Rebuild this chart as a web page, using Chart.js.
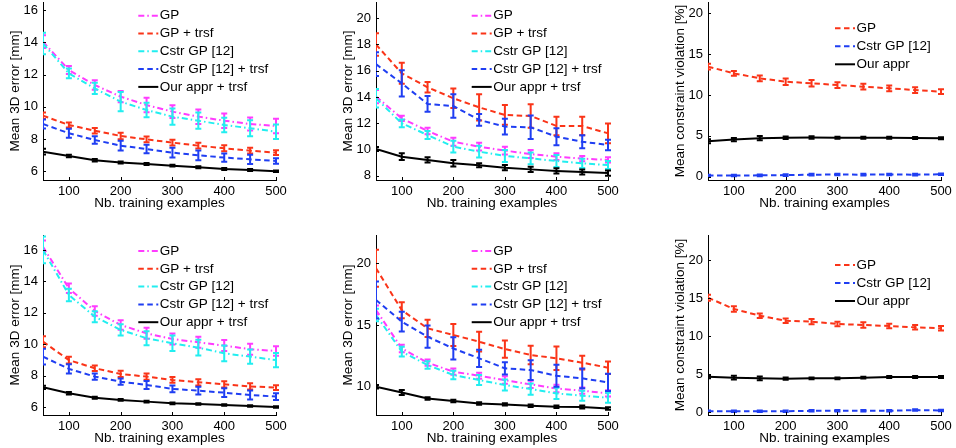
<!DOCTYPE html>
<html><head><meta charset="utf-8">
<script src="https://cdn.jsdelivr.net/npm/chart.js@4.4.1/dist/chart.umd.min.js"></script>
<style>
html,body{margin:0;padding:0;background:#fff;}
#wrap{position:relative;width:956px;height:448px;overflow:hidden;background:#fff;}
canvas{position:absolute;}
</style></head><body>
<div id="wrap">
<canvas id="c1" width="320" height="224" style="left:0px;top:0px"></canvas>
<canvas id="c2" width="320" height="224" style="left:320px;top:0px"></canvas>
<canvas id="c3" width="316" height="224" style="left:640px;top:0px"></canvas>
<canvas id="c4" width="320" height="224" style="left:0px;top:224px"></canvas>
<canvas id="c5" width="320" height="224" style="left:320px;top:224px"></canvas>
<canvas id="c6" width="316" height="224" style="left:640px;top:224px"></canvas>
</div>
<script>
// ---------------- DATA ----------------
const nTrain = [50,100,150,200,250,300,350,400,450,500];
const xTicks = [100,200,300,400,500];
const yTicksA = [6,8,10,12,14,16];
const yTicksB = [8,10,12,14,16,18,20];
const yTicksE = [10,15,20];
const yTicksViol = [0,5,10,15,20];

const labelsErr = ['GP','GP + trsf','Cstr GP [12]','Cstr GP [12] + trsf','Our appr + trsf'];
const labelsViol = ['GP','Cstr GP [12]','Our appr'];
const xTitle = 'Nb. training examples';
const yTitleErr = 'Mean 3D error [mm]';
const yTitleViol = 'Mean constraint violation [%]';

// Panel 1 (top-left)
const p1_gp     = [14.04,12.28,11.35,10.63,10.11,9.70,9.39,9.14,8.93,8.81];
const p1_gpErr  = [0.40,0.25,0.30,0.35,0.45,0.40,0.45,0.45,0.40,0.45];
const p1_gpT    = [9.45,8.87,8.52,8.19,7.98,7.78,7.59,7.43,7.28,7.16];
const p1_gpTErr = [0.20,0.15,0.17,0.20,0.18,0.18,0.18,0.18,0.18,0.15];
const p1_cs     = [13.93,12.07,11.14,10.32,9.80,9.39,9.14,8.87,8.67,8.46];
const p1_csErr  = [0.67,0.30,0.35,0.60,0.45,0.50,0.50,0.45,0.50,0.45];
const p1_csT    = [8.93,8.36,7.94,7.59,7.38,7.16,6.99,6.85,6.74,6.64];
const p1_csTErr = [0.28,0.28,0.23,0.30,0.26,0.30,0.30,0.26,0.28,0.17];
const p1_our    = [7.22,6.95,6.68,6.54,6.45,6.35,6.25,6.14,6.08,6.00];
const p1_ourErr = [0.18,0.08,0.08,0.06,0.06,0.06,0.06,0.06,0.06,0.05];

// Panel 2 (top-middle)
const p2_gp     = [14.03,12.37,11.41,10.59,10.21,9.91,9.65,9.45,9.30,9.20];
const p2_gpErr  = [0.50,0.20,0.25,0.30,0.30,0.30,0.30,0.25,0.20,0.20];
const p2_gpT    = [18.00,15.80,14.74,13.90,13.21,12.63,12.55,11.79,11.79,11.23];
const p2_gpTErr = [0.85,0.80,0.40,0.75,1.00,0.75,0.90,0.70,0.70,0.75];
const p2_cs     = [13.90,11.99,11.10,10.21,9.83,9.50,9.32,9.12,8.94,8.81];
const p2_csErr  = [0.70,0.30,0.30,0.45,0.45,0.45,0.45,0.45,0.35,0.30];
const p2_csT    = [16.50,15.04,13.47,13.31,12.25,11.74,11.69,10.97,10.59,10.34];
const p2_csTErr = [0.90,1.00,0.60,0.90,0.45,0.60,0.90,0.65,0.50,0.40];
const p2_our    = [10.03,9.45,9.20,8.94,8.79,8.61,8.48,8.36,8.28,8.20];
const p2_ourErr = [0.15,0.25,0.20,0.25,0.15,0.20,0.20,0.20,0.20,0.20];

// Panel 3 (top-right)
const p3_gp     = [13.47,12.65,12.04,11.63,11.43,11.22,11.02,10.82,10.61,10.41];
const p3_gpErr  = [0.35,0.30,0.35,0.40,0.40,0.35,0.35,0.35,0.35,0.30];
const p3_cs     = [0.15,0.15,0.17,0.20,0.25,0.27,0.25,0.28,0.25,0.30];
const p3_csErr  = [0.10,0.10,0.10,0.10,0.10,0.10,0.10,0.10,0.10,0.10];
const p3_our    = [4.35,4.55,4.72,4.78,4.80,4.78,4.77,4.76,4.74,4.70];
const p3_ourErr = [0.25,0.20,0.25,0.15,0.15,0.12,0.12,0.12,0.12,0.12];

// Panel 4 (bottom-left)
const p4_gp     = [16.20,13.56,12.12,11.23,10.70,10.34,10.13,9.92,9.69,9.58];
const p4_gpErr  = [0.40,0.30,0.30,0.30,0.35,0.35,0.35,0.35,0.35,0.30];
const p4_gpT    = [10.17,9.00,8.48,8.12,7.95,7.74,7.59,7.46,7.33,7.25];
const p4_gpTErr = [0.35,0.22,0.18,0.20,0.20,0.18,0.20,0.20,0.20,0.15];
const p4_cs     = [16.00,13.14,11.76,10.92,10.39,10.07,9.79,9.43,9.22,9.00];
const p4_csErr  = [0.85,0.40,0.35,0.35,0.45,0.50,0.50,0.50,0.45,0.45];
const p4_csT    = [9.22,8.44,7.95,7.63,7.42,7.17,7.06,6.93,6.78,6.68];
const p4_csTErr = [0.50,0.30,0.20,0.20,0.25,0.22,0.25,0.28,0.28,0.22];
const p4_our    = [7.27,6.89,6.61,6.47,6.36,6.25,6.21,6.15,6.08,6.02];
const p4_ourErr = [0.10,0.08,0.06,0.05,0.05,0.05,0.05,0.05,0.05,0.05];

// Panel 5 (bottom-middle)
const p5_gp     = [16.22,13.10,11.95,11.22,10.89,10.54,10.19,9.86,9.68,9.46];
const p5_gpErr  = [0.35,0.30,0.25,0.25,0.25,0.30,0.30,0.30,0.25,0.25];
const p5_gpT    = [19.60,16.20,14.73,14.19,13.65,13.05,12.57,12.30,11.95,11.54];
const p5_gpTErr = [1.50,0.65,0.70,0.90,0.80,0.70,0.75,0.95,0.55,0.50];
const p5_cs     = [15.81,12.84,11.76,10.95,10.54,10.14,9.81,9.46,9.27,9.11];
const p5_csErr  = [0.50,0.40,0.30,0.35,0.40,0.45,0.45,0.45,0.40,0.40];
const p5_csT    = [17.03,15.27,14.05,13.10,12.30,11.49,11.35,10.89,10.68,10.35];
const p5_csTErr = [1.50,0.80,0.90,0.90,0.70,0.50,0.80,0.90,0.80,0.70];
const p5_our    = [10.00,9.54,9.05,8.84,8.65,8.57,8.46,8.38,8.35,8.24];
const p5_ourErr = [0.15,0.20,0.10,0.10,0.10,0.10,0.10,0.10,0.12,0.10];

// Panel 6 (bottom-right)
const p6_gp     = [15.05,13.57,12.69,12.03,11.90,11.60,11.47,11.33,11.16,11.03];
const p6_gpErr  = [0.40,0.35,0.30,0.30,0.35,0.30,0.35,0.30,0.30,0.30];
const p6_cs     = [0.15,0.15,0.15,0.15,0.20,0.20,0.20,0.20,0.30,0.25];
const p6_csErr  = [0.10,0.10,0.10,0.10,0.10,0.10,0.10,0.10,0.10,0.10];
const p6_our    = [4.68,4.55,4.46,4.42,4.46,4.46,4.55,4.64,4.64,4.64];
const p6_ourErr = [0.20,0.25,0.25,0.15,0.12,0.12,0.12,0.12,0.12,0.12];

// ---------------- STYLE ----------------
const FONT = '"Liberation Sans", Arial, Helvetica, sans-serif';
const DASH = [5.5, 3.5];
const DASHDOT = [6, 3, 1.5, 3];
const C_MAG = '#ff3cff', C_RED = '#fa3418', C_CYAN = '#22eef0', C_BLUE = '#1f3ef2', C_BLACK = '#000000';
const Y_AXIS_W = 35.6, X_AXIS_H = 31.4;

function mkDs(label, values, errors, color, dash, idx, n) {
  return {
    label, errors,
    data: values.map((v, i) => ({x: nTrain[i], y: v})),
    borderColor: color, backgroundColor: color, borderDash: dash,
    borderWidth: 2, pointRadius: 0, tension: 0, fill: false, order: n - idx
  };
}
function errSets(gp, gpE, gpT, gpTE, cs, csE, csT, csTE, our, ourE) {
  const vals = [[gp,gpE,C_MAG,DASHDOT],[gpT,gpTE,C_RED,DASH],[cs,csE,C_CYAN,DASHDOT],[csT,csTE,C_BLUE,DASH],[our,ourE,C_BLACK,[]]];
  return vals.map((v, i) => mkDs(labelsErr[i], v[0], v[1], v[2], v[3], i, vals.length));
}
function violSets(gp, gpE, cs, csE, our, ourE) {
  const vals = [[gp,gpE,C_RED,DASH],[cs,csE,C_BLUE,DASH],[our,ourE,C_BLACK,[]]];
  return vals.map((v, i) => mkDs(labelsViol[i], v[0], v[1], v[2], v[3], i, vals.length));
}

// ---------------- PLUGINS ----------------
const errorBarPlugin = {
  id: 'errbars',
  afterDatasetDraw(chart, args) {
    const d = chart.data.datasets[args.index];
    if (!d.errors) return;
    const ctx = chart.ctx, ys = chart.scales.y, a = chart.chartArea;
    ctx.save();
    ctx.beginPath(); ctx.rect(a.left, a.top, a.right - a.left + 4, a.bottom - a.top); ctx.clip();
    ctx.strokeStyle = d.borderColor; ctx.lineWidth = 2; ctx.setLineDash([]); ctx.lineCap = 'butt';
    args.meta.data.forEach((p, i) => {
      const v = d.data[i].y, e = d.errors[i];
      const yT = ys.getPixelForValue(v + e), yB = ys.getPixelForValue(v - e);
      ctx.beginPath();
      ctx.moveTo(p.x, yT); ctx.lineTo(p.x, yB);
      ctx.moveTo(p.x - 3, yT); ctx.lineTo(p.x + 3, yT);
      ctx.moveTo(p.x - 3, yB); ctx.lineTo(p.x + 3, yB);
      ctx.stroke();
    });
    ctx.restore();
  }
};
const legendPlugin = {
  id: 'mlLegend',
  afterDraw(chart, args, o) {
    const ctx = chart.ctx;
    ctx.save();
    chart.data.datasets.forEach((d, i) => {
      const y = o.y + i * o.dy;
      ctx.strokeStyle = d.borderColor; ctx.lineWidth = 2; ctx.setLineDash(d.borderDash || []);
      ctx.beginPath(); ctx.moveTo(o.x, y); ctx.lineTo(o.x + o.len, y); ctx.stroke();
      ctx.setLineDash([]);
      ctx.fillStyle = '#000'; ctx.font = '13.5px ' + FONT;
      ctx.textBaseline = 'middle'; ctx.textAlign = 'left';
      ctx.fillText(d.label, o.x + o.len + 1.5, y);
    });
    ctx.restore();
  }
};
const inTicksPlugin = {
  id: 'inTicks',
  afterDraw(chart) {
    const ctx = chart.ctx, xs = chart.scales.x, ys = chart.scales.y, a = chart.chartArea;
    ctx.save(); ctx.strokeStyle = '#000'; ctx.lineWidth = 1; ctx.setLineDash([]);
    ctx.beginPath();
    xs.ticks.forEach(t => { const px = Math.round(xs.getPixelForValue(t.value)) + 0.5; ctx.moveTo(px, a.bottom); ctx.lineTo(px, a.bottom - 3); });
    ys.ticks.forEach(t => { const py = Math.round(ys.getPixelForValue(t.value)) + 0.5; ctx.moveTo(a.left, py); ctx.lineTo(a.left + 3, py); });
    ctx.stroke(); ctx.restore();
  }
};

// ---------------- PANELS ----------------
function makePanel(id, g, yMin, yMax, yTicks, yTitle, datasets, leg) {
  const pad = {
    left: g.cl - g.L - Y_AXIS_W, right: g.L + g.W - g.cr,
    top: g.ct - g.T, bottom: g.T + g.H - g.cb - X_AXIS_H
  };
  new Chart(document.getElementById(id), {
    type: 'line',
    data: {datasets},
    options: {
      responsive: false, animation: false, devicePixelRatio: 1,
      layout: {padding: pad},
      plugins: {legend: {display: false}, tooltip: {enabled: false}, mlLegend: leg},
      scales: {
        x: {
          type: 'linear', min: 50, max: 500,
          grid: {display: false, drawTicks: false},
          border: {display: true, color: '#000', width: 1},
          ticks: {font: {family: FONT, size: 13}, color: '#000', padding: 3.2, maxRotation: 0, autoSkip: false},
          title: {display: true, text: xTitle, font: {family: FONT, size: 13.5}, color: '#000', padding: 0},
          afterBuildTicks: s => { s.ticks = xTicks.map(v => ({value: v})); },
          afterFit: s => { s.height = X_AXIS_H; s.paddingLeft = 0; s.paddingRight = 0; }
        },
        y: {
          type: 'linear', min: yMin, max: yMax,
          grid: {display: false, drawTicks: false},
          border: {display: true, color: '#000', width: 1},
          ticks: {font: {family: FONT, size: 13}, color: '#000', padding: 5, autoSkip: false},
          title: {display: true, text: yTitle, font: {family: FONT, size: 13.5}, color: '#000', padding: 0},
          afterBuildTicks: s => { s.ticks = yTicks.map(v => ({value: v})); },
          afterFit: s => { s.width = Y_AXIS_W; s.paddingTop = 0; s.paddingBottom = 0; }
        }
      }
    },
    plugins: [errorBarPlugin, legendPlugin, inTicksPlugin]
  });
}

const TOP = {T: 0, H: 224, ct: 2, cb: 180};
const BOT = {T: 224, H: 224, ct: 235, cb: 415};
const COL1 = {L: 0, W: 320, cl: 43, cr: 276};
const COL2 = {L: 320, W: 320, cl: 376, cr: 608};
const COL3 = {L: 640, W: 316, cl: 708, cr: 941};

makePanel('c1', {...TOP, ...COL1}, 5.46, 16.5, yTicksA, yTitleErr,
  errSets(p1_gp,p1_gpErr,p1_gpT,p1_gpTErr,p1_cs,p1_csErr,p1_csT,p1_csTErr,p1_our,p1_ourErr),
  {x: 138.3, y: 15.7, dy: 17.8, len: 20});
makePanel('c2', {...TOP, ...COL2}, 7.67, 21.24, yTicksB, yTitleErr,
  errSets(p2_gp,p2_gpErr,p2_gpT,p2_gpTErr,p2_cs,p2_csErr,p2_csT,p2_csTErr,p2_our,p2_ourErr),
  {x: 151.7, y: 15.7, dy: 17.8, len: 20});
makePanel('c3', {...TOP, ...COL3}, -0.40, 21.38, yTicksViol, yTitleViol,
  violSets(p3_gp,p3_gpErr,p3_cs,p3_csErr,p3_our,p3_ourErr),
  {x: 195, y: 28.3, dy: 18, len: 20});
makePanel('c4', {...BOT, ...COL1}, 5.51, 16.95, yTicksA, yTitleErr,
  errSets(p4_gp,p4_gpErr,p4_gpT,p4_gpTErr,p4_cs,p4_csErr,p4_csT,p4_csTErr,p4_our,p4_ourErr),
  {x: 138.3, y: 27, dy: 17.8, len: 20});
makePanel('c5', {...BOT, ...COL2}, 7.71, 22.29, yTicksE, yTitleErr,
  errSets(p5_gp,p5_gpErr,p5_gpT,p5_gpTErr,p5_cs,p5_csErr,p5_csT,p5_csTErr,p5_our,p5_ourErr),
  {x: 151.7, y: 27, dy: 17.8, len: 20});
makePanel('c6', {...BOT, ...COL3}, -0.35, 23.28, yTicksViol, yTitleViol,
  violSets(p6_gp,p6_gpErr,p6_cs,p6_csErr,p6_our,p6_ourErr),
  {x: 195, y: 41, dy: 18, len: 20});
</script>
</body></html>
